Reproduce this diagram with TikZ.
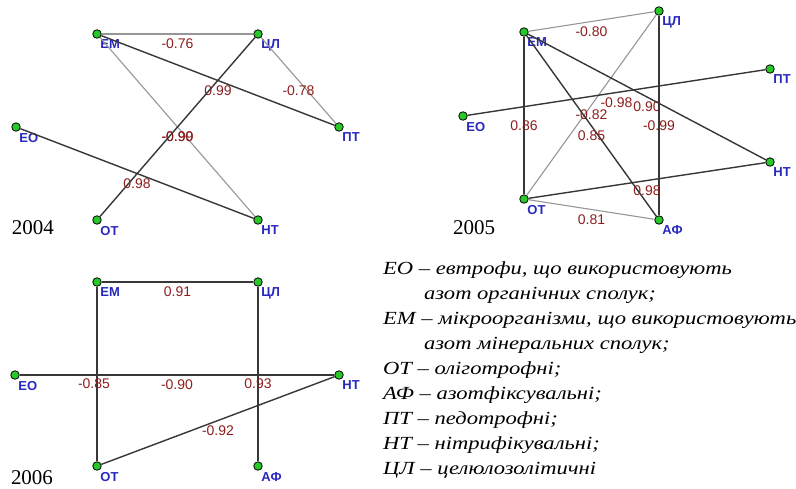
\documentclass[tikz,border=0pt]{standalone}
\usepackage{fontspec}
\usepackage{graphicx}
\setmainfont{Liberation Serif}
\setsansfont{Liberation Sans}
\usetikzlibrary{positioning}

\definecolor{vfill}{RGB}{40,200,40}
\definecolor{vtext}{RGB}{40,40,190}
\definecolor{rtext}{RGB}{140,30,30}
\definecolor{dline}{RGB}{55,55,55}
\definecolor{lline}{RGB}{150,150,150}

\newcommand\wideline[1]{\scalebox{1.22}[1]{#1}}

\begin{document}
\begin{tikzpicture}[x=1pt,y=-1pt,
  vert/.style={circle,draw=black,fill=vfill,line width=0.8pt,inner sep=0pt,minimum size=8.5pt},
  tag/.style={font=\sffamily\bfseries\fontsize{13}{13}\selectfont,text=vtext,inner sep=0pt,anchor=north west,yshift=-2.5pt},
  dk/.style={draw=dline,line width=1.4pt},
  lt/.style={draw=lline,line width=1.1pt},
  val/.style={font=\sffamily\fontsize{14}{14}\selectfont,text=rtext,midway,yshift=-10pt,inner sep=0pt},
  year/.style={font=\fontsize{21}{21}\selectfont,inner sep=0pt},
  leg/.style={font=\itshape\fontsize{18.5}{18.5}\selectfont,anchor=base west,inner sep=0pt}]
  \useasboundingbox (0,0) rectangle (796,488);

  % 2004
  \begin{scope}
    \node[vert,label={[tag]-45:ЕМ}] (em4) at (97,34) {};
    \node[vert,label={[tag]-45:ЦЛ}] (cl4) at (258,34) {};
    \node[vert,label={[tag]-45:ПТ}] (pt4) at (339,127) {};
    \node[vert,label={[tag]-45:ЕО}] (eo4) at (16,127) {};
    \node[vert,label={[tag]-45:ОТ}] (ot4) at (97,220) {};
    \node[vert,label={[tag]-45:НТ}] (nt4) at (258,220) {};
    \draw[lt] (em4) -- (cl4) node[val]{-0.76};
    \draw[lt] (cl4) -- (pt4) node[val]{-0.78};
    \draw[lt] (em4) -- (nt4) node[val]{-0.90};
    \draw[dk] (em4) -- (pt4) node[val]{0.99};
    \draw[dk] (cl4) -- (ot4) node[val]{-0.99};
    \draw[dk] (eo4) -- (nt4) node[val]{0.98};
    \node[year] (y4) at (33,228) {2004};
  \end{scope}

  % 2005
  \begin{scope}
    \node[vert,label={[tag]-45:ЦЛ}] (cl5) at (659,11) {};
    \node[vert,label={[tag]-45:ЕМ}] (em5) at (524,32) {};
    \node[vert,label={[tag]-45:ПТ}] (pt5) at (770,69) {};
    \node[vert,label={[tag]-45:ЕО}] (eo5) at (463,116) {};
    \node[vert,label={[tag]-45:НТ}] (nt5) at (770,162) {};
    \node[vert,label={[tag]-45:ОТ}] (ot5) at (524,199) {};
    \node[vert,label={[tag]-45:АФ}] (af5) at (659,220) {};
    \draw[lt] (em5) -- (cl5) node[val]{-0.80};
    \draw[lt] (ot5) -- (cl5) node[val]{-0.82};
    \draw[lt] (ot5) -- (af5) node[val]{0.81};
    \draw[dk] (em5) -- (ot5) node[val]{0.86};
    \draw[dk] (em5) -- (nt5) node[val]{0.90};
    \draw[dk] (em5) -- (af5) node[val]{0.85};
    \draw[dk] (eo5) -- (pt5) node[val]{-0.98};
    \draw[dk] (cl5) -- (af5) node[val]{-0.99};
    \draw[dk] (ot5) -- (nt5) node[val]{0.98};
    \node[year] (y5) at (474,228) {2005};
  \end{scope}

  % 2006
  \begin{scope}
    \node[vert,label={[tag]-45:ЕМ}] (em6) at (97,282) {};
    \node[vert,label={[tag]-45:ЦЛ}] (cl6) at (258,282) {};
    \node[vert,label={[tag]-45:ЕО}] (eo6) at (15,375) {};
    \node[vert,label={[tag]-45:НТ}] (nt6) at (339,375) {};
    \node[vert,label={[tag]-45:ОТ}] (ot6) at (97,466) {};
    \node[vert,label={[tag]-45:АФ}] (af6) at (258,466) {};
    \draw[dk] (em6) -- (cl6) node[val]{0.91};
    \draw[dk] (em6) -- (ot6) node[val,xshift=-3pt]{-0.85};
    \draw[dk] (eo6) -- (nt6) node[val]{-0.90};
    \draw[dk] (cl6) -- (af6) node[val]{0.93};
    \draw[dk] (ot6) -- (nt6) node[val]{-0.92};
    \node[year] (y6) at (32,478) {2006};
  \end{scope}

  % legend
  \node[leg] (l1) at (383,274) {\wideline{ЕО – евтрофи, що використовують}};
  \node[leg] (l2) at (424,299) {\wideline{азот органічних сполук;}};
  \node[leg] (l3) at (383,324) {\wideline{ЕМ – мікроорганізми, що використовують}};
  \node[leg] (l4) at (424,349) {\wideline{азот мінеральних сполук;}};
  \node[leg] (l5) at (383,374) {\wideline{ОТ – оліготрофні;}};
  \node[leg] (l6) at (383,399) {\wideline{АФ – азотфіксувальні;}};
  \node[leg] (l7) at (383,424) {\wideline{ПТ – педотрофні;}};
  \node[leg] (l8) at (383,449) {\wideline{НТ – нітрифікувальні;}};
  \node[leg] (l9) at (383,474) {\wideline{ЦЛ – целюлозолітичні}};
\end{tikzpicture}
\end{document}
